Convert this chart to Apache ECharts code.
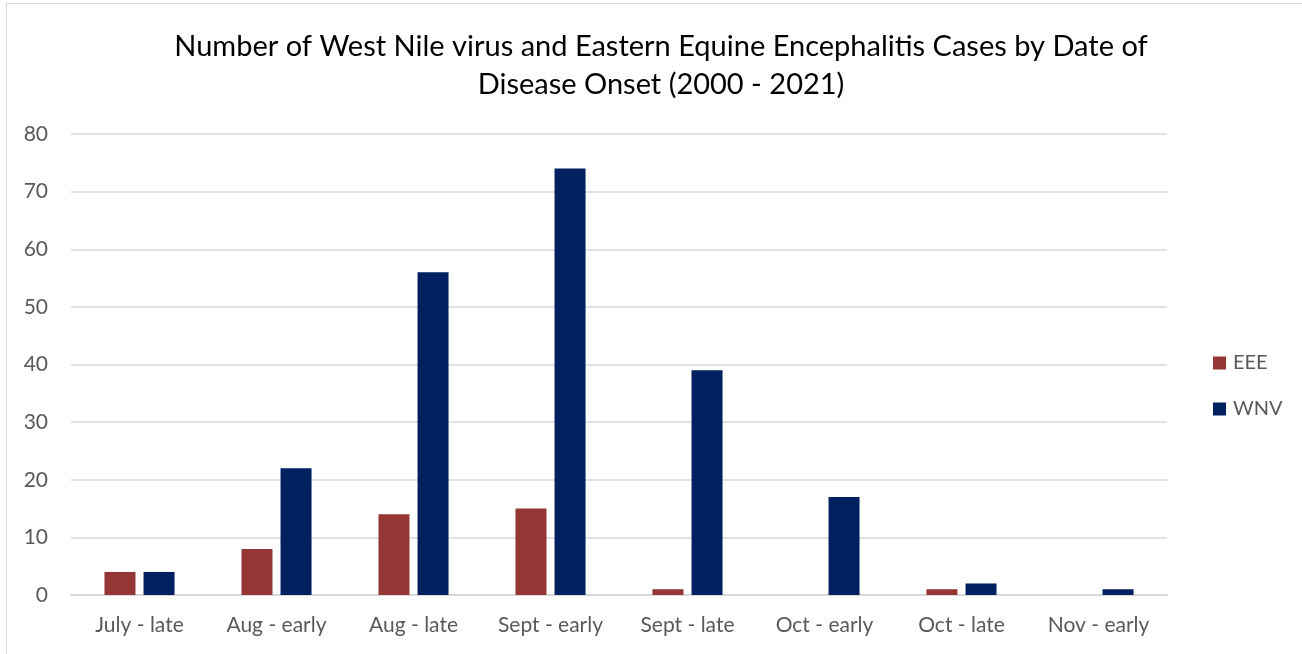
<!DOCTYPE html>
<html lang="en">

<head>
    <meta charset="utf-8" />
    <title>WNV and EEE cases</title>
    <script src="https://cdn.jsdelivr.net/npm/echarts@6/dist/echarts.min.js"></script>
    <style>
        html, body { margin: 0; padding: 0; background: #fff; }
        #frame { position: absolute; left: 6px; top: 3px; width: 1300px; height: 660px; border: 1px solid #d9d9d9; box-sizing: border-box; }
        #main { position: absolute; left: 0; top: 0; width: 1302px; height: 654px; }
    </style>
</head>

<body>
    <div id="frame"></div>
    <div id="main"></div>
    <script type="text/javascript">

        // onset periods
        var periods = ['July - late', 'Aug - early', 'Aug - late', 'Sept - early',
            'Sept - late', 'Oct - early', 'Oct - late', 'Nov - early'];
        // case counts
        var eee = [4, 8, 14, 15, 1, 0, 1, 0];
        var wnv = [4, 22, 56, 74, 39, 17, 2, 1];
        var yTicks = [0, 10, 20, 30, 40, 50, 60, 70, 80];

        var font = 'Lato, "Open Sans", sans-serif';
        var myChart = echarts.init(document.getElementById('main'));

        option = {
            animation: false,
            title: {
                text: 'Number of West Nile virus and Eastern Equine Encephalitis Cases by Date of\nDisease Onset (2000 - 2021)',
                left: 656,
                top: 23,
                textAlign: 'center',
                textStyle: { fontFamily: font, fontSize: 29, fontWeight: 'normal', color: '#000', lineHeight: 38 }
            },
            legend: {
                orient: 'vertical',
                left: 1208,
                top: 348,
                itemWidth: 13,
                itemHeight: 13,
                itemGap: 26,
                icon: 'rect',
                textStyle: { fontFamily: font, fontSize: 20, color: '#595959', padding: [0, 0, 0, 2] },
                data: ['EEE', 'WNV']
            },
            grid: { left: 71, right: 135, top: 134, bottom: 59, containLabel: false },
            xAxis: {
                type: 'category',
                data: periods,
                axisLine: { lineStyle: { color: '#d9d9d9', width: 2 } },
                axisTick: { show: false },
                axisLabel: { fontFamily: font, fontSize: 21, color: '#595959', margin: 20 }
            },
            yAxis: {
                type: 'value',
                min: yTicks[0],
                max: yTicks[yTicks.length - 1],
                interval: 10,
                axisLine: { show: false },
                axisTick: { show: false },
                splitLine: { lineStyle: { color: '#d9d9d9', width: 1.5 } },
                axisLabel: { fontFamily: font, fontSize: 21, color: '#595959', margin: 23 }
            },
            series: [{
                name: 'EEE',
                type: 'bar',
                data: eee,
                itemStyle: { color: '#943634' },
                barWidth: 31,
                barGap: '26%'
            }, {
                name: 'WNV',
                type: 'bar',
                data: wnv,
                itemStyle: { color: '#002060' },
                barWidth: 31,
                barGap: '26%'
            }]
        };

        myChart.setOption(option);

    </script>
</body>

</html>
